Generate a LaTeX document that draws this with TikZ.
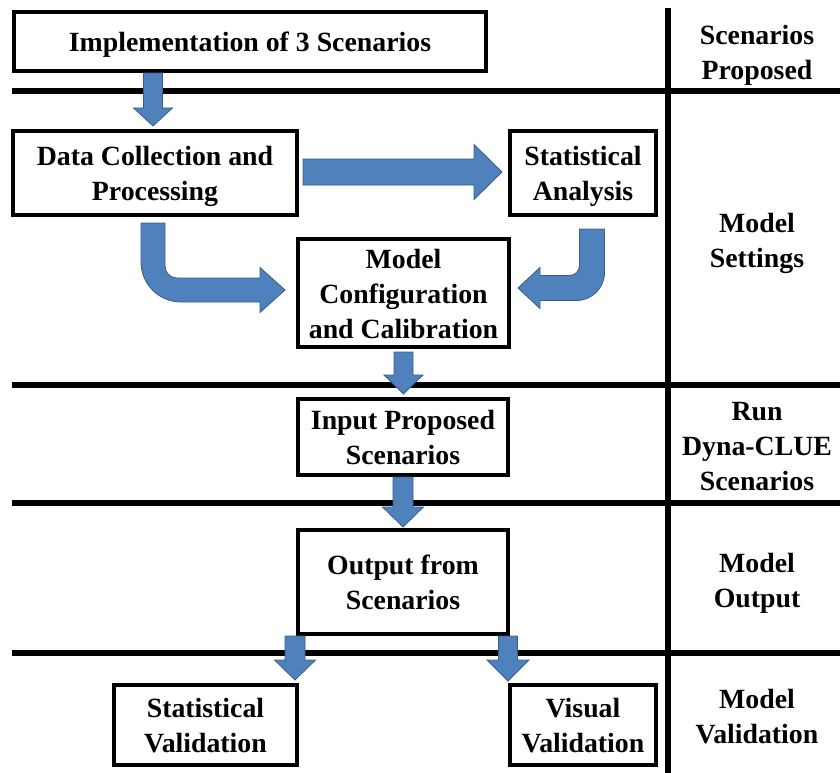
\documentclass[tikz,border=0pt]{standalone}
\usepackage{fontspec}
\setmainfont{Liberation Serif}
\usetikzlibrary{calc}
\definecolor{arrowfill}{HTML}{4F81BD}
\definecolor{arrowedge}{HTML}{385D8A}
\newcommand\diagfont{\fontsize{27.8}{35}\selectfont\bfseries}
% fixed line box (27.5pt above, 7.5pt below the baseline) for every text line
\newcommand\linestrut{\rule[-7.5pt]{0pt}{35pt}}

\tikzset{
  % straight block arrow pointing down: shaft width / head width / head length
  vblock/.style args={#1/#2/#3}{to path={
    let \p1=(\tikztostart), \p2=(\tikztotarget) in
    ({\x1-#1pt/2},\y1) -- ({\x1-#1pt/2},{\y2+#3pt}) -- ({\x1-#2pt/2},{\y2+#3pt})
    -- (\x1,\y2)
    -- ({\x1+#2pt/2},{\y2+#3pt}) -- ({\x1+#1pt/2},{\y2+#3pt}) -- ({\x1+#1pt/2},\y1) -- cycle}},
  % straight block arrow pointing right
  hblock/.style args={#1/#2/#3}{to path={
    let \p1=(\tikztostart), \p2=(\tikztotarget) in
    (\x1,{\y1+#1pt/2}) -- ({\x2-#3pt},{\y1+#1pt/2}) -- ({\x2-#3pt},{\y1+#2pt/2})
    -- (\x2,\y1)
    -- ({\x2-#3pt},{\y1-#2pt/2}) -- ({\x2-#3pt},{\y1-#1pt/2}) -- (\x1,{\y1-#1pt/2}) -- cycle}},
  % bent block arrow: down, then sideways (side +1 right / -1 left)
  % side / shaft width / head width / head length / inner radius / outer radius
  bentblock/.style args={#1/#2/#3/#4/#5/#6}{to path={
    let \p1=(\tikztostart), \p2=(\tikztotarget),
        \n1={(#1)*(#2)/2}, \n2={(#1)*(#5)}, \n3={(#1)*(#6)}, \n4={(#1)*(#4)} in
    ({\x1-(\n1)},\y1) -- ({\x1+(\n1)},\y1)
    -- ({\x1+(\n1)},{\y2+#2pt/2+#5pt})
    .. controls ({\x1+(\n1)},{\y2+#2pt/2+0.4477*#5pt})
            and ({\x1+(\n1)+0.4477*(\n2)},{\y2+#2pt/2}) ..
    ({\x1+(\n1)+(\n2)},{\y2+#2pt/2})
    -- ({\x2-(\n4)},{\y2+#2pt/2}) -- ({\x2-(\n4)},{\y2+#3pt/2})
    -- (\x2,\y2)
    -- ({\x2-(\n4)},{\y2-#3pt/2}) -- ({\x2-(\n4)},{\y2-#2pt/2})
    -- ({\x1-(\n1)+(\n3)},{\y2-#2pt/2})
    .. controls ({\x1-(\n1)+0.4477*(\n3)},{\y2-#2pt/2})
            and ({\x1-(\n1)},{\y2-#2pt/2+0.4477*#6pt}) ..
    ({\x1-(\n1)},{\y2-#2pt/2+#6pt})
    -- cycle}}
}

\begin{document}
\begin{tikzpicture}[x=1pt,y=-1pt,
  box/.style={draw, line width=4pt, fill=white, inner sep=0pt, align=center, font=\diagfont},
  phase/.style={inner sep=0pt, align=center, font=\diagfont},
  rule/.style={line width=6pt},
  flowarrow/.style={fill=arrowfill, draw=arrowedge, line width=0.8pt, line join=miter}]

\useasboundingbox (0,0) rectangle (840,773);

% lane separators
\draw[rule] (12,91) -- (840,91);
\draw[rule] (12,385) -- (840,385);
\draw[rule] (12,502.5) -- (840,502.5);
\draw[rule] (12,653) -- (840,653);
\draw[line width=6.5pt] (668,8) -- (668,773);

% process boxes
\node[box, minimum width=472pt, minimum height=59pt] (impl) at (250,41.5)
  {\linestrut Implementation of 3 Scenarios};
\node[box, minimum width=284pt, minimum height=84pt] (data) at (155,173)
  {\linestrut Data Collection and\\\linestrut Processing};
\node[box, minimum width=146pt, minimum height=84pt] (stat) at (583,173)
  {\linestrut Statistical\\\linestrut Analysis};
\node[box, minimum width=211pt, minimum height=108pt] (model) at (403.5,293)
  {\linestrut Model\\\linestrut Configuration\\\linestrut and Calibration};
\node[box, minimum width=210pt, minimum height=76pt] (input) at (403,437)
  {\linestrut Input Proposed\\\linestrut Scenarios};
\node[box, minimum width=210pt, minimum height=104pt] (output) at (403,582)
  {\linestrut Output from\\\linestrut Scenarios};
\node[box, minimum width=183pt, minimum height=80pt] (sval) at (205.5,725)
  {\linestrut Statistical\\\linestrut Validation};
\node[box, minimum width=146pt, minimum height=80pt] (vval) at (583,725)
  {\linestrut Visual\\\linestrut Validation};

% phase labels
\node[phase] (p1) at (757,52.5) {\linestrut Scenarios\\\linestrut Proposed};
\node[phase] (p2) at (757,240) {\linestrut Model\\\linestrut Settings};
\node[phase] (p3) at (757,445) {\linestrut Run\\\linestrut Dyna-CLUE\\\linestrut Scenarios};
\node[phase] (p4) at (757,579.5) {\linestrut Model\\\linestrut Output};
\node[phase] (p5) at (757,715.5) {\linestrut Model\\\linestrut Validation};

% block arrows
\path[flowarrow, vblock=19/39/18]
  ($(data.north |- impl.south)+(-2,0)$) to ($(data.north)+(-2,-3)$);
\path[flowarrow, hblock=26/55/28]
  ($(data.east)+(4,-1)$) to ($(stat.west)+(-6,-1)$);
\path[flowarrow, bentblock=1/24/45/25/12/40]
  ($(data.south)+(-2,6)$) to ($(model.west)+(-11,-3)$);
\path[flowarrow, bentblock=-1/25/41/22/10/28]
  ($(stat.south)+(9,12)$) to ($(model.east)+(7,-5)$);
\path[flowarrow, vblock=19/39/19]
  ($(model.south)+(0,3)$) to ($(input.north)+(0,-3)$);
\path[flowarrow, vblock=20/41/20]
  (input.south) to ($(output.north)+(0,-1)$);
\path[flowarrow, vblock=20/41/20]
  ($(output.south west)+(-1,0)$) to ($(sval.north east)+(-4,-3)$);
\path[flowarrow, vblock=19/42/21]
  ($(output.south east)+(-2,0)$) to ($(vval.north west)+(0,-2)$);

\end{tikzpicture}
\end{document}
